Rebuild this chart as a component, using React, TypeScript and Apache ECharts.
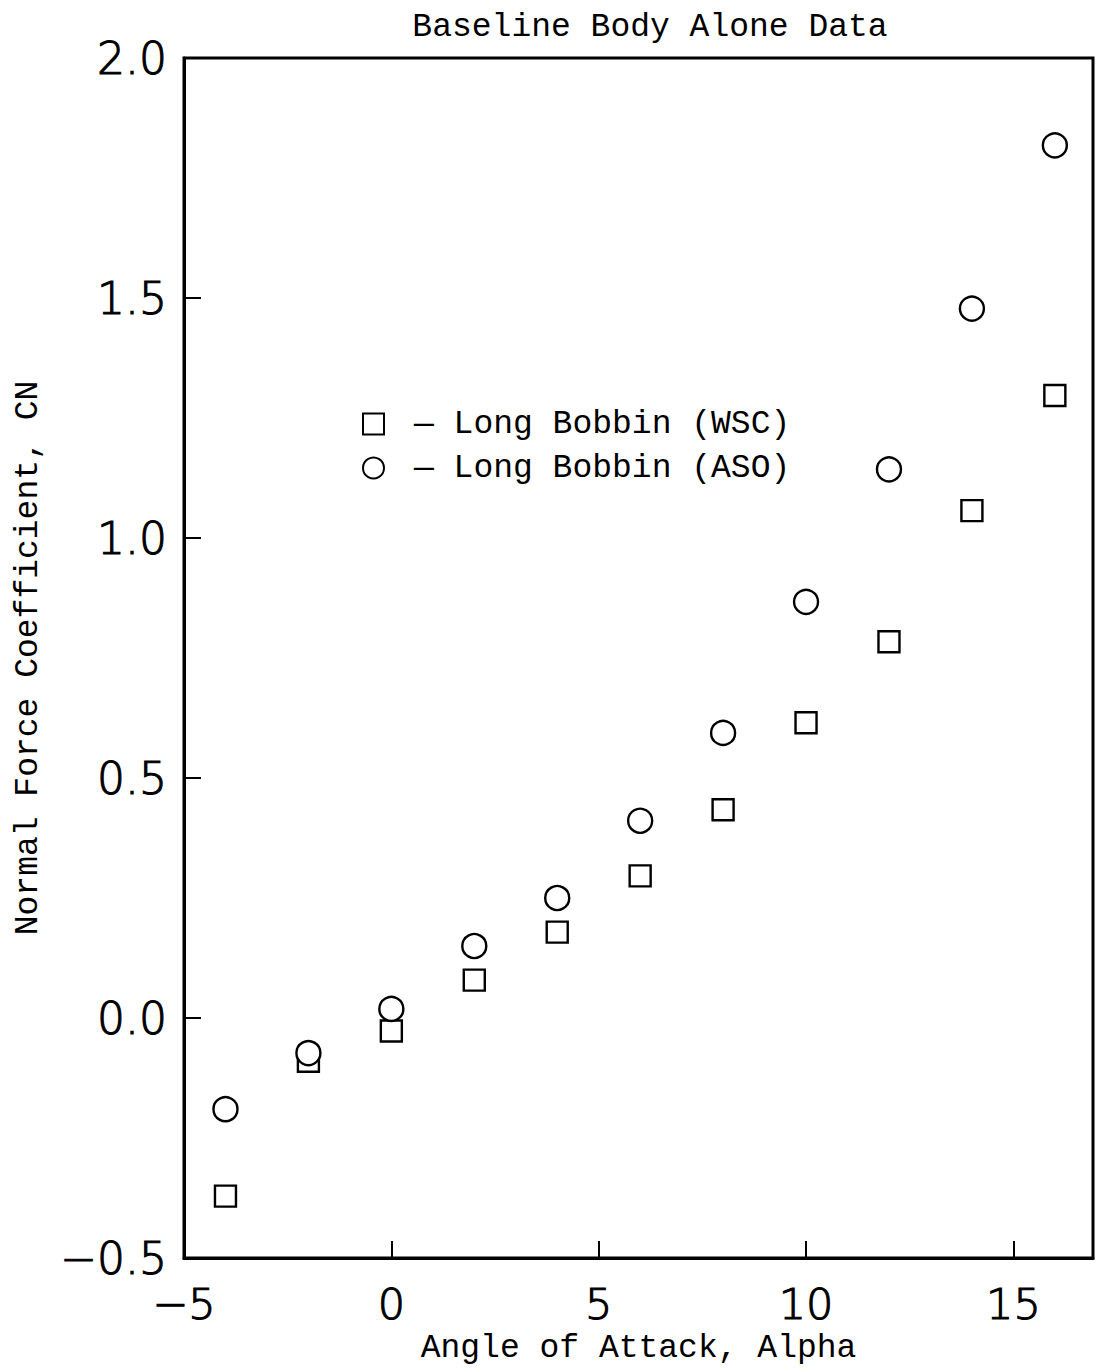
import React, { useEffect, useRef } from "react";
import * as echarts from "echarts";

const alphaValues = [-4, -2, 0, 2, 4, 6, 8, 10, 12, 14, 16];
const cnWSC = [-0.371, -0.09, -0.027, 0.079, 0.179, 0.296, 0.434, 0.615, 0.784, 1.057, 1.297];
const cnASO = [-0.19, -0.073, 0.019, 0.15, 0.25, 0.411, 0.594, 0.867, 1.143, 1.478, 1.818];
const seriesNames = ["Long Bobbin (WSC)", "Long Bobbin (ASO)"];
const titleText = "Baseline Body Alone Data";
const xTitle = "Angle of Attack, Alpha";
const yTitle = "Normal Force Coefficient, CN";

const MONO = "'Liberation Mono', 'DejaVu Sans Mono', monospace";
const SANS = "'DejaVu Sans', 'Liberation Sans', Arial, sans-serif";

export default function App() {
  const ref = useRef<HTMLDivElement>(null);
  useEffect(() => {
    if (!ref.current) return;
    const chart = echarts.init(ref.current, undefined, { renderer: "svg" });
    const fmt = (v: number, d: number) => {
      const s = v.toFixed(d);
      return s.replace("-", "\u2212");
    };
    chart.setOption({
      animation: false,
      backgroundColor: "#ffffff",
      title: {
        text: titleText,
        left: 645,
        textAlign: "center",
        top: 6,
        textStyle: { fontFamily: MONO, fontSize: 33, fontWeight: "normal", color: "#000" },
      },
      legend: {
        orient: "vertical",
        left: 357,
        top: 401,
        itemWidth: 21,
        itemHeight: 21,
        itemGap: 8,
        data: seriesNames,
        formatter: (name: string) => "\u2014 " + name,
        textStyle: {
          fontFamily: MONO,
          fontSize: 33,
          lineHeight: 36,
          color: "#000",
          padding: [0, 0, 0, 25],
        },
      },
      grid: {
        left: 184,
        top: 58,
        width: 909,
        height: 1200,
        show: true,
        borderColor: "#000",
        borderWidth: 3,
        backgroundColor: "transparent",
      },
      xAxis: {
        type: "value",
        min: -5,
        max: 16.92,
        interval: 5,
        name: xTitle,
        nameLocation: "middle",
        nameGap: 74,
        nameTextStyle: { fontFamily: MONO, fontSize: 33, color: "#000" },
        axisLine: { show: true, onZero: false, lineStyle: { color: "#000", width: 3 } },
        axisTick: { show: true, inside: true, length: 17, lineStyle: { color: "#000", width: 2 } },
        axisLabel: {
          fontFamily: SANS,
          fontSize: 43,
          fontWeight: 200,
          color: "#000",
          textBorderColor: "#000",
          textBorderWidth: 1.1,
          margin: 24,
          formatter: (v: number) => (v > 16 ? "" : fmt(v, 0)),
        },
        splitLine: { show: false },
      },
      yAxis: {
        type: "value",
        min: -0.5,
        max: 2.0,
        interval: 0.5,
        name: yTitle,
        nameLocation: "middle",
        nameGap: 139,
        nameTextStyle: { fontFamily: MONO, fontSize: 33, color: "#000" },
        axisLine: { show: true, onZero: false, lineStyle: { color: "#000", width: 3 } },
        axisTick: { show: true, inside: true, length: 17, lineStyle: { color: "#000", width: 2 } },
        axisLabel: {
          fontFamily: SANS,
          fontSize: 44,
          fontWeight: 200,
          color: "#000",
          textBorderColor: "#000",
          textBorderWidth: 1.1,
          margin: 17,
          formatter: (v: number) => fmt(v, 1),
        },
        splitLine: { show: false },
      },
      series: [
        {
          name: seriesNames[0],
          type: "scatter",
          symbol: "rect",
          symbolSize: 21,
          data: alphaValues.map((a, i) => [a, cnWSC[i]]),
          itemStyle: { color: "#ffffff", borderColor: "#000", borderWidth: 2.4, opacity: 1 },
        },
        {
          name: seriesNames[1],
          type: "scatter",
          symbol: "circle",
          symbolSize: 24,
          data: alphaValues.map((a, i) => [a, cnASO[i]]),
          itemStyle: { color: "#ffffff", borderColor: "#000", borderWidth: 2.4, opacity: 1 },
        },
      ],
    });
    return () => chart.dispose();
  }, []);
  return (
    <div
      ref={ref}
      style={{ position: "absolute", left: 0, top: 0, width: 1097, height: 1372, background: "#fff" }}
    />
  );
}
